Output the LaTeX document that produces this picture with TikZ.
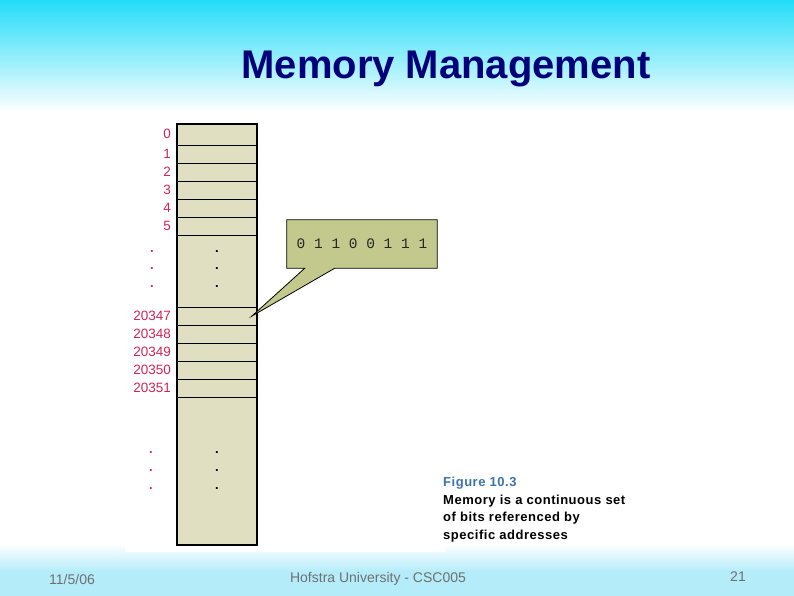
\documentclass[tikz,border=0pt]{standalone}
\usepackage{fontspec}
\setmainfont{Liberation Sans}
\newfontfamily\monof{Liberation Mono}
\usetikzlibrary{calc}
\definecolor{topcyan}{HTML}{22DCF8}
\definecolor{botcyan}{HTML}{B4ECFA}
\definecolor{navy}{HTML}{00007A}
\definecolor{addrred}{HTML}{D0245A}
\definecolor{memfill}{HTML}{E0DFC2}
\definecolor{callfill}{HTML}{C3C98C}
\definecolor{figblue}{HTML}{3C74A8}
\definecolor{footgray}{HTML}{707070}
\tikzset{
  addr/.style={anchor=east, text=addrred, inner sep=0pt, font=\fontsize{13.5}{15}\selectfont},
  vdot/.style={inner sep=0pt, font=\fontsize{13}{15}\selectfont\bfseries},
  rowline/.style={draw=black, line width=0.8pt},
  foot/.style={text=footgray, inner sep=0pt, font=\fontsize{14}{16}\selectfont},
  captext/.style={anchor=west, inner sep=0pt, font=\fontsize{13}{15}\selectfont\bfseries\addfontfeature{LetterSpace=4}},
}
\begin{document}
\begin{tikzpicture}[x=1pt,y=-1pt]
\useasboundingbox (0,0) rectangle (794,596);
% background
\shade[top color=topcyan, bottom color=white] (0,0) rectangle (794,112);
\fill[white] (0,111) rectangle (794,545);
\shade[top color=white, bottom color=botcyan] (0,544) rectangle (794,572);
\fill[botcyan] (0,571) rectangle (794,596);
\fill[white] (125,115) rectangle (445,552);
% title
\node[text=navy, font=\fontsize{40}{44}\selectfont\bfseries, inner sep=0pt] (title) at (446,69) {Memory Management};
% memory column
\node[draw=black, line width=1.2pt, fill=memfill, minimum width=80pt, minimum height=421pt, inner sep=0pt] (mem) at (217,334.5) {};
\foreach \y in {145,163,181,199,217,235,307,325,343,361,379,397}
  \draw[rowline] (mem.west |- 0,\y) -- (mem.east |- 0,\y);
% addresses
\foreach \t/\y in {0/134,1/154,2/172,3/190,4/208,5/226,20347/316,20348/334,20349/352,20350/370,20351/388}
  \node[addr] (a\t) at (171,\y) {\t};
\foreach \y [count=\i] in {252,269,287} {
  \node[vdot, text=addrred] (ld\i) at (152,\y) {.};
  \node[vdot] (md\i) at (217,\y) {.};
}
\foreach \y [count=\i] in {453,471,489} {
  \node[vdot, text=addrred] (lb\i) at (151,\y) {.};
  \node[vdot] (mb\i) at (217,\y) {.};
}
% callout
\node[minimum width=150pt, minimum height=48pt, inner sep=0pt] (bits) at (362,244) {};
\coordinate (tip) at (252,316);
\filldraw[fill=callfill, draw=black, line width=0.8pt, line join=miter]
  (bits.north west) -- (bits.north east) -- (bits.south east)
  -- ($(bits.south west)+(48,0)$) -- (tip) -- ($(bits.south west)+(18,0)$)
  -- (bits.south west) -- cycle;
\node[inner sep=0pt, text=black!85, font=\monof\fontsize{14.5}{16}\selectfont] (bittext) at (bits.center) {0 1 1 0 0 1 1 1};
% caption
\node[captext, text=figblue] (c1) at (443,483) {Figure 10.3};
\node[captext] (c2) at (443,501) {Memory is a continuous set};
\node[captext] (c3) at (443,518) {of bits referenced by};
\node[captext] (c4) at (443,536) {specific addresses};
% footer
\node[foot] (date) at (72,579) {11/5/06};
\node[foot] (univ) at (378,579) {Hofstra University - CSC005};
\node[foot] (page) at (738,577) {21};
\end{tikzpicture}
\end{document}
